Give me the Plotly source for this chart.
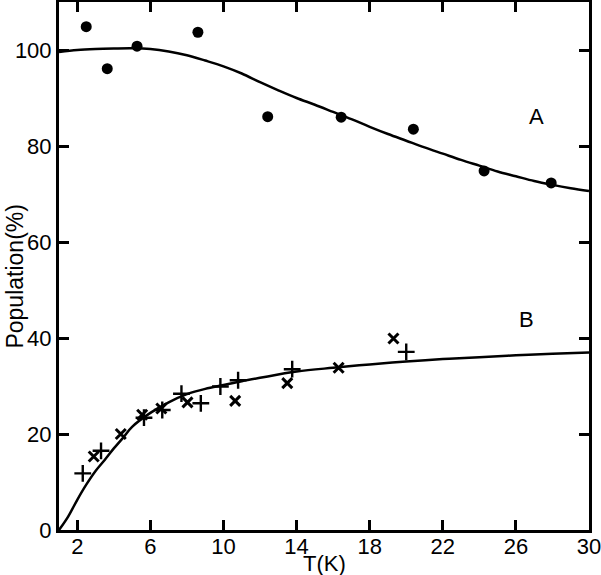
import plotly.graph_objects as go

# curve A (fit) and circles
curve_a_t = list(range(1, 31))
curve_a_p = [99.6, 100.0, 100.2, 100.3, 100.35, 100.2, 99.7, 98.9, 97.8, 96.6,
             95.1, 93.3, 91.6, 90.0, 88.6, 87.1, 85.6, 84.0, 82.5, 81.1,
             79.7, 78.4, 77.1, 75.9, 74.7, 73.7, 72.7, 71.9, 71.2, 70.6]
dots_t = [2.49, 3.64, 5.27, 8.6, 12.42, 16.44, 20.39, 24.26, 27.93]
dots_p = [104.85, 96.1, 100.8, 103.7, 86.1, 86.0, 83.5, 74.8, 72.3]

# curve B (fit), plus and cross markers
curve_b_t = [1, 1.5, 2, 2.5, 3, 3.5, 4, 4.5, 5, 6, 7, 8, 9, 10, 11, 12, 14, 16, 18, 20, 22, 24, 26, 28, 30]
curve_b_p = [0, 2.8, 6.3, 9.5, 12.3, 14.6, 17.0, 19.2, 21.5, 24.4, 26.6, 28.3, 29.4, 30.2, 31.0,
             31.7, 33.0, 33.8, 34.5, 35.1, 35.6, 36.0, 36.4, 36.7, 37.0]
plus_t = [2.3, 3.3, 5.65, 6.65, 7.7, 8.76, 9.83, 10.8, 13.76, 20.0]
plus_p = [11.8, 16.5, 23.4, 25.0, 28.4, 26.4, 29.9, 31.2, 33.5, 37.1]
cross_t = [2.9, 4.38, 5.55, 6.6, 8.03, 10.64, 13.49, 16.3, 19.3]
cross_p = [15.3, 20.0, 24.0, 25.3, 26.6, 26.9, 30.6, 33.8, 39.9]

xticks = [2, 6, 10, 14, 18, 22, 26, 30]
yticks = [0, 20, 40, 60, 80, 100]

fnt = dict(family="Liberation Sans, Arial, sans-serif", size=22, color="black")

fig = go.Figure()
fig.add_trace(go.Scatter(x=curve_a_t, y=curve_a_p, mode="lines", line_shape="spline",
                         line=dict(color="black", width=2.5)))
fig.add_trace(go.Scatter(x=curve_b_t, y=curve_b_p, mode="lines", line_shape="spline",
                         line=dict(color="black", width=2.5)))
fig.add_trace(go.Scatter(x=dots_t, y=dots_p, mode="markers",
                         marker=dict(symbol="circle", size=11, color="black")))
fig.add_trace(go.Scatter(x=plus_t, y=plus_p, mode="markers",
                         marker=dict(symbol="cross-thin", size=12, line=dict(color="black", width=2.4))))
fig.add_trace(go.Scatter(x=cross_t, y=cross_p, mode="markers",
                         marker=dict(symbol="x-thin", size=10, line=dict(color="black", width=3))))

fig.add_annotation(x=27.1, y=86.2, text="A", showarrow=False, font=fnt)
fig.add_annotation(x=26.6, y=43.9, text="B", showarrow=False, font=fnt)
# axis titles
fig.add_annotation(xref="paper", yref="paper", x=0.5, y=-0.064, yanchor="middle",
                   text="T(K)", showarrow=False, font=fnt)
fig.add_annotation(xref="paper", yref="paper", x=-0.083, y=0.48, xanchor="center",
                   text="Population(%)", textangle=-90, showarrow=False,
                   font=dict(fnt, size=23))

axis = dict(showgrid=False, zeroline=False, showline=True, linecolor="black", linewidth=3,
            ticks="inside", ticklen=10, tickwidth=2.5, tickcolor="black", mirror="ticks",
            tickfont=fnt, automargin=False, ticklabeloverflow="allow")
fig.update_xaxes(range=[1, 30], tickvals=xticks, ticklabelstandoff=-5, **axis)
fig.update_yaxes(range=[0, 110], tickvals=yticks, **axis)

fig.update_layout(width=601, height=575, showlegend=False,
                  plot_bgcolor="white", paper_bgcolor="white",
                  margin=dict(l=59, r=12, t=2, b=45), font=fnt)

# drop the page's default body margin so the figure sits at the top-left corner
fig.write_html("out.html", config={"displayModeBar": False},
               post_script="document.body.style.margin='0';")
